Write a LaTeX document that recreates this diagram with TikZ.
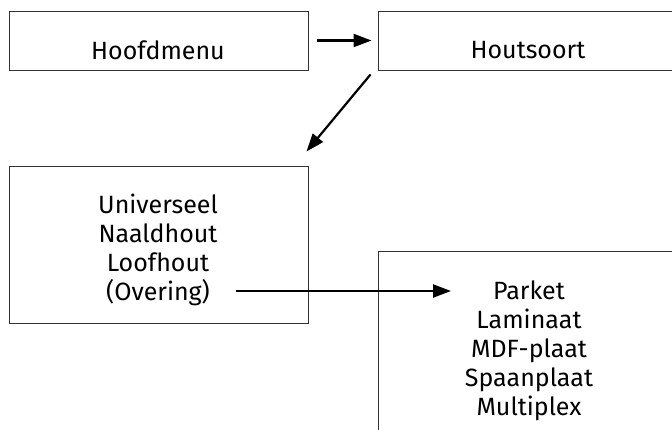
\documentclass[tikz,border=0pt]{standalone}
\usepackage{fontspec}
\setmainfont{Fira Sans}
\usetikzlibrary{arrows.meta}

\begin{document}
\begin{tikzpicture}[x=1pt,y=-1pt,
  kader/.style={draw=black!80,line width=0.9pt,minimum width=299pt,inner sep=0pt},
  tekst/.style={inner sep=0pt,align=center,text=black,font=\fontsize{25}{29}\selectfont},
  pijl/.style={line width=2.2pt,-{Triangle[length=18pt,width=13pt]}}]
\clip (0,0) rectangle (672,429);
% boxes
\node[kader,minimum height=59pt] (menu) at (158.5,40.5) {};
\node[kader,minimum width=300pt,minimum height=59pt] (soort) at (528,40.5) {};
\node[kader,minimum height=157pt] (hout) at (158.5,244.5) {};
\node[kader,minimum width=300pt,minimum height=194pt] (plaat) at (528,348) {};
% texts
\node[tekst] (tmenu) at (158,50) {Hoofdmenu};
\node[tekst] (tsoort) at (528,50) {Houtsoort};
\node[tekst] (thout) at (158,250) {Universeel\\Naaldhout\\Loofhout\\(Overing)};
\node[tekst] (tplaat) at (529,351) {Parket\\Laminaat\\MDF-plaat\\Spaanplaat\\Multiplex};
% arrows
\coordinate (van) at (236,291);
\coordinate (naar) at (451,291);
\draw[pijl] ([xshift=9pt]menu.east) -- ([xshift=-6pt]soort.west);
\draw[pijl] ([shift={(-7,4)}]soort.south west) -- ([shift={(-2,-14)}]hout.north east);
\draw[pijl] (van) -- (naar);
\end{tikzpicture}
\end{document}
